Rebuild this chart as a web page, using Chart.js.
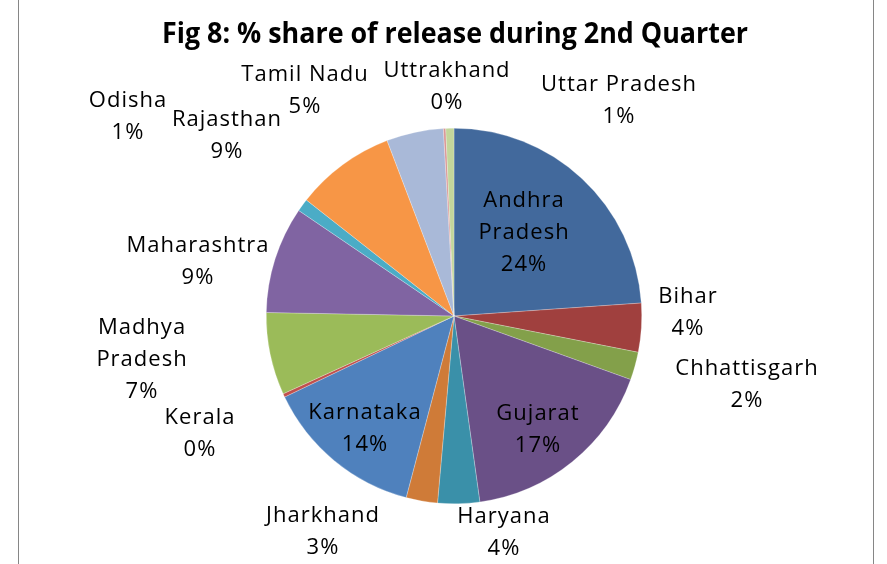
<!DOCTYPE html>
<html>
<head>
<meta charset="utf-8">
<script src="https://cdn.jsdelivr.net/npm/chart.js@4.4.0/dist/chart.umd.min.js"></script>
<style>
    html, body { margin: 0; padding: 0; background: #fff; overflow: hidden; }
    #wrap { position: relative; width: 887px; height: 564px; }
</style>
</head>
<body>
<div id="wrap"><canvas id="share" width="887" height="564"></canvas></div>
<script>
// data
var states = ['Andhra Pradesh', 'Bihar', 'Chhattisgarh', 'Gujarat', 'Haryana', 'Jharkhand', 'Karnataka', 'Kerala',
    'Madhya Pradesh', 'Maharashtra', 'Odisha', 'Rajasthan', 'Tamil Nadu', 'Uttrakhand', 'Uttar Pradesh'];
var shares = [23.9, 4.2, 2.4, 17.3, 3.6, 2.7, 13.8, 0.3, 7.1, 9.2, 1.1, 8.6, 4.9, 0.2, 0.7];
var titleText = 'Fig 8: % share of release during 2nd Quarter';

var sliceColors = ['#42699c', '#a0403e', '#83a04a', '#6a5087', '#3a90a9', '#cf7b38', '#4f81bd', '#c0504d',
    '#9bbb59', '#8064a2', '#4bacc6', '#f79646', '#a9b9d8', '#d99694', '#c3d69b'];

// label placement (first line baseline, centred), wrap = one word per line
var labelLayout = [
    { x: 524, y: 207, wrap: true },
    { x: 688, y: 303 },
    { x: 747, y: 375 },
    { x: 538, y: 420 },
    { x: 504, y: 523 },
    { x: 323, y: 522 },
    { x: 365, y: 419 },
    { x: 200, y: 424 },
    { x: 142, y: 334, wrap: true },
    { x: 198, y: 252 },
    { x: 128, y: 107 },
    { x: 227, y: 126 },
    { x: 305, y: 81 },
    { x: 447, y: 77 },
    { x: 619, y: 91 }
];

var frameAndText = {
    id: 'frameAndText',
    beforeDraw(chart) {
        let ctx = chart.ctx;
        ctx.save();
        ctx.strokeStyle = '#868686';
        ctx.lineWidth = 1;
        ctx.beginPath();
        ctx.moveTo(18.5, 0); ctx.lineTo(18.5, 564);
        ctx.moveTo(873.5, 0); ctx.lineTo(873.5, 564);
        ctx.stroke();
        ctx.restore();
    },
    afterDraw(chart) {
        let ctx = chart.ctx;
        let total = shares.reduce((a, b) => a + b, 0);
        ctx.save();
        ctx.fillStyle = '#000';
        ctx.textAlign = 'center';
        ctx.textBaseline = 'alphabetic';

        ctx.font = 'bold 28px "Open Sans"';
        ctx.fillText(titleText, 455, 43, 586);

        ctx.font = '22px "Open Sans"';
        ctx.letterSpacing = '1px';
        states.forEach((name, i) => {
            let pos = labelLayout[i];
            let lines = pos.wrap ? name.split(' ') : [name];
            lines.push(Math.round(shares[i] / total * 100) + '%');
            lines.forEach((txt, k) => ctx.fillText(txt, pos.x, pos.y + k * 32));
        });
        ctx.restore();
    }
};

new Chart(document.getElementById('share'), {
    type: 'pie',
    data: {
        labels: states,
        datasets: [{
            data: shares,
            backgroundColor: sliceColors,
            borderColor: 'rgba(255, 255, 255, .5)',
            borderWidth: 0.5,
            hoverOffset: 0
        }]
    },
    options: {
        responsive: false,
        animation: false,
        layout: { padding: { top: 128, bottom: 60, left: 266, right: 245 } },
        plugins: {
            legend: { display: false },
            title: { display: false },
            tooltip: { enabled: false }
        }
    },
    plugins: [frameAndText]
});
</script>
</body>
</html>
